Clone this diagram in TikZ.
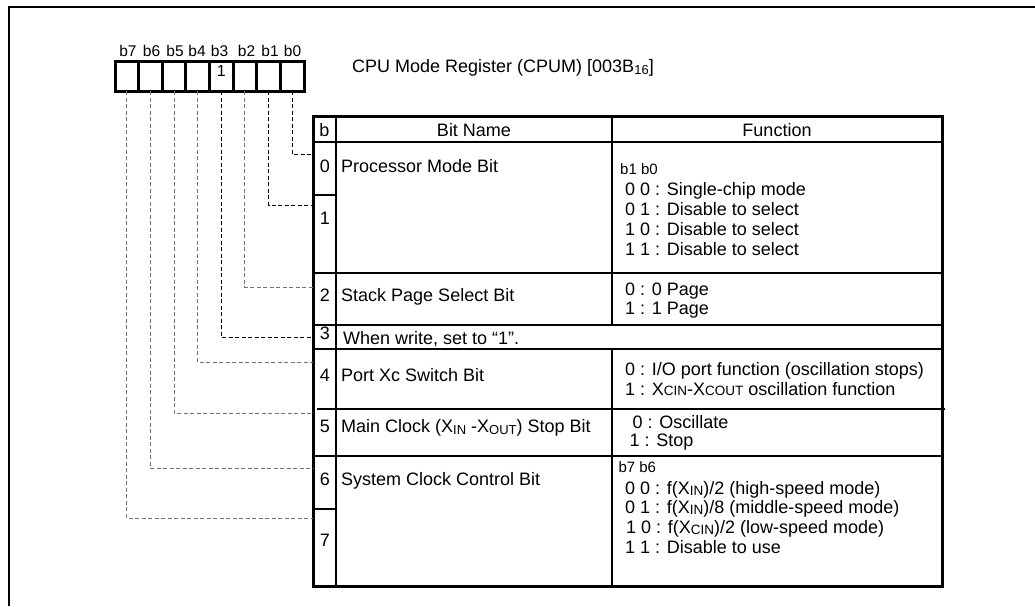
\documentclass[tikz,border=0pt]{standalone}
\usepackage{fontspec}
\setmainfont{Liberation Sans}
% lowered, smaller letters for signal names such as X_IN
\newcommand{\lowsub}[1]{\raisebox{-2pt}{\fontsize{13pt}{13pt}\selectfont #1}}
\newcommand{\smsub}[1]{\raisebox{-0.8pt}{\fontsize{13.5pt}{13.5pt}\selectfont #1}}
\tikzset{
  frame/.style={line width=2.8pt},
  cell/.style={draw, line width=3pt, minimum width=23.625pt, minimum height=30pt, inner sep=0pt, outer sep=0pt},
  rule/.style={line width=2.6pt},
  border/.style={line width=3pt},
  lead/.style={dash pattern=on 4pt off 2.5pt, line width=0.9pt},
  leadgray/.style={lead, draw=black!55},
  big/.style={inner sep=0pt, font=\fontsize{18pt}{20pt}\selectfont},
  txt/.style={big, anchor=base west},
  num/.style={big, anchor=base},
  small/.style={inner sep=0pt, anchor=base west, font=\fontsize{15pt}{17pt}\selectfont},
  bitlbl/.style={inner sep=0pt, anchor=base, font=\fontsize{15.5pt}{17pt}\selectfont},
}
\begin{document}
\begin{tikzpicture}[x=1pt, y=-1pt]
\useasboundingbox (0,0) rectangle (1035,606);

% outer frame
\draw[frame] (9,606) -- (9,7) -- (1035,7);

% register cells b7 ... b0
\foreach \k in {0,...,7} {
  \pgfmathsetmacro\cx{115+23.625*(7-\k)+11.8125}
  \node[cell] (c\k) at (\cx,76) {};
}
% bit labels above the cells
\foreach \k/\lx in {7/128, 6/151.5, 5/175, 4/197, 3/219.5, 2/246.5, 1/270, 0/292.5} {
  \node[bitlbl] (l\k) at (\lx,56) {b\k};
}
\node[inner sep=0pt, anchor=base, font=\fontsize{16pt}{16pt}\selectfont] (one) at (c3.center |- 0,76.5) {1};

\node[txt] (title) at (352,72.7) {CPU Mode Register (CPUM) [003B\lowsub{16}]};

% table grid
\def\xL{313} \def\xB{336} \def\xM{612} \def\xR{942}
\draw[border] (\xL,116) rectangle (\xR,586);
\draw[rule] (\xB,116) -- (\xB,586);
\draw[rule] (\xM,116) -- (\xM,325);
\draw[rule] (\xM,349) -- (\xM,586);
\draw[rule] (\xL,142) -- (\xR,142);
\draw[rule] (\xL,195) -- (\xB,195);
\draw[rule] (\xL,273) -- (\xR,273);
\draw[rule] (\xL,325) -- (\xR,325);
\draw[rule] (\xL,349) -- (\xR,349);
\draw[rule] (317,409) -- (945,409);
\draw[rule] (\xL,456) -- (\xR,456);
\draw[rule] (\xL,509) -- (\xB,509);

% ends of the leader lines on the table edge
\coordinate (t0) at (\xL,154);
\coordinate (t1) at (\xL,205);
\coordinate (t2) at (\xL,287);
\coordinate (t3) at (\xL,337);
\coordinate (t4) at (\xL,362);
\coordinate (t5) at (\xL,413);
\coordinate (t6) at (\xL,468);
\coordinate (t7) at (\xL,518);

\draw[lead] (c0.south) |- (t0);
\draw[lead] (c1.south) |- (t1);
\draw[leadgray] (c2.south) |- (t2);
\draw[lead] (c3.south) |- (t3);
\draw[leadgray] (c4.south) |- (t4);
\draw[leadgray] (c5.south) |- (t5);
\draw[leadgray] (c6.south) |- (t6);
\draw[leadgray] (c7.south) |- (t7);

% header
\node[num] (hb) at (324.5,136) {b};
\node[num] (hname) at (474,136) {Bit Name};
\node[num] (hfunc) at (777,136) {Function};

% bit numbers
\node[num] (n0) at (325,172.7) {0};
\node[num] (n1) at (325,224.3) {1};
\node[num] (n2) at (325,301.7) {2};
\node[num] (n3) at (325,339) {3};
\node[num] (n4) at (325,381) {4};
\node[num] (n5) at (325,432.7) {5};
\node[num] (n6) at (325,485) {6};
\node[num] (n7) at (325,546.7) {7};

% bit names
\node[txt] (name0) at (341,172.7) {Processor Mode Bit};
\node[txt] (name2) at (341,301.7) {Stack Page Select Bit};
\node[txt] (name3) at (343,344) {When write, set to “1”.};
\node[txt] (name4) at (341,381) {Port Xc Switch Bit};
\node[txt] (name5) at (341,432.7) {Main Clock (X\lowsub{IN} -X\lowsub{OUT}) Stop Bit};
\node[txt] (name6) at (341,485) {System Clock Control Bit};

% functions
\node[small] (f0h) at (620,174) {b1 b0};
\node[txt] (f0a) at (625,195.7) {0 0 : Single-chip mode};
\node[txt] (f0b) at (625,215.5) {0 1 : Disable to select};
\node[txt] (f0c) at (625,235.2) {1 0 : Disable to select};
\node[txt] (f0d) at (625,255) {1 1 : Disable to select};

\node[txt] (f2a) at (625,295) {0 : 0 Page};
\node[txt] (f2b) at (625,314.3) {1 : 1 Page};

\node[txt] (f4a) at (625,375.7) {0 : I/O port function (oscillation stops)};
\node[txt] (f4b) at (625,395) {1 : X\smsub{CIN}-X\smsub{COUT} oscillation function};

\node[txt] (f5a) at (632.5,428.3) {0 : Oscillate};
\node[txt] (f5b) at (629.5,446.7) {1 : Stop};

\node[small] (f6h) at (618.3,472.7) {b7 b6};
\node[txt] (f6a) at (625,494.3) {0 0 : f(X\smsub{IN})/2 (high-speed mode)};
\node[txt] (f6b) at (625,513.3) {0 1 : f(X\smsub{IN})/8 (middle-speed mode)};
\node[txt] (f6c) at (626,533.3) {1 0 : f(X\smsub{CIN})/2 (low-speed mode)};
\node[txt] (f6d) at (625,553.3) {1 1 : Disable to use};
\end{tikzpicture}
\end{document}
